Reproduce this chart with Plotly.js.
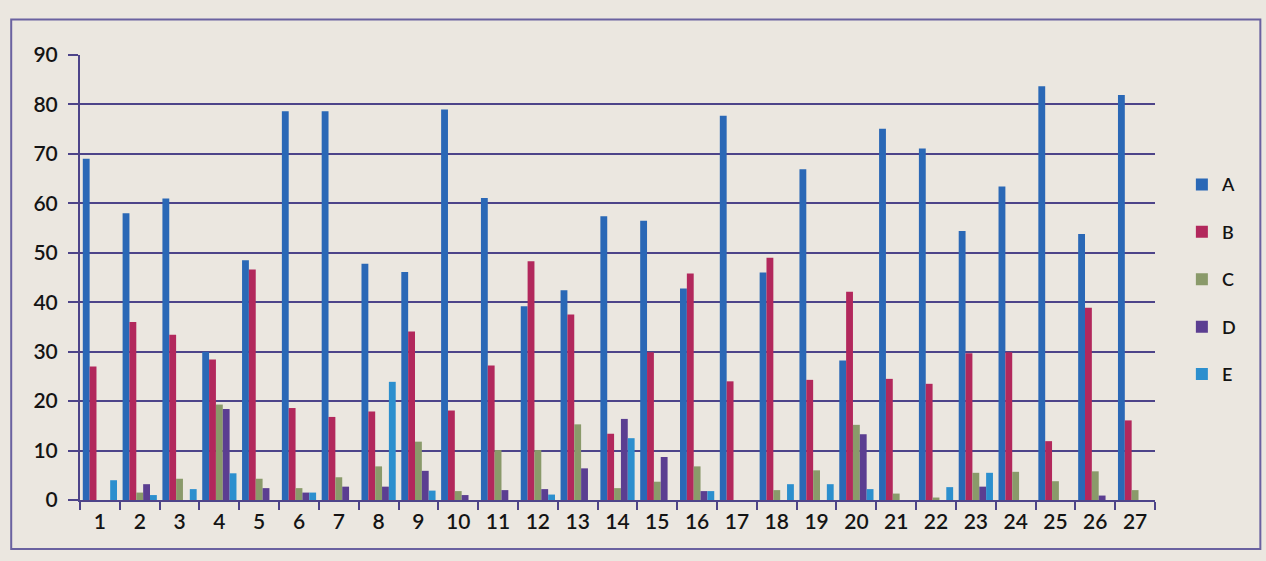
<!DOCTYPE html>
<html>
<head>
<meta charset="utf-8">
<script src="https://cdn.plot.ly/plotly-3.0.1.min.js"></script>
<style>
html,body{margin:0;padding:0;background:#ebe7e0;}
#chart{width:1266px;height:561px;}
</style>
</head>
<body>
<div id="chart"></div>
<script>
const categories = ["1","2","3","4","5","6","7","8","9","10","11","12","13","14","15","16","17","18","19","20","21","22","23","24","25","26","27"];
const seriesA = [69,58,61,30,48.5,78.6,78.6,47.8,46.1,79,61.1,39.2,42.4,57.4,56.5,42.8,77.7,46,66.9,28.2,75.1,71.1,54.4,63.4,83.7,53.8,81.9];
const seriesB = [27,36,33.4,28.4,46.6,18.6,16.8,17.9,34.1,18.1,27.2,48.3,37.5,13.4,29.9,45.8,24,49,24.3,42.1,24.5,23.5,29.7,29.9,11.9,38.9,16.1];
const seriesC = [0,1.5,4.3,19.3,4.3,2.4,4.6,6.8,11.8,1.8,10.1,10.1,15.3,2.4,3.7,6.8,0,2,6,15.2,1.3,0.5,5.5,5.7,3.8,5.8,2];
const seriesD = [0,3.2,0,18.4,2.4,1.5,2.7,2.7,5.9,1,2,2.2,6.4,16.4,8.7,1.8,0,0,0,13.3,0,0,2.7,0,0,0.9,0];
const seriesE = [4,1,2.2,5.4,0,1.5,0,23.9,1.9,0,0,1.1,0,12.5,0,1.8,0,3.2,3.2,2.2,0,2.6,5.5,0,0,0,0];
const seriesNames = ["A","B","C","D","E"];
const seriesColors = ["#2a68b6","#b2285c","#8a9a6a","#5b3e91","#2c8fce"];

const allSeries = [seriesA, seriesB, seriesC, seriesD, seriesE];
const traces = allSeries.map((vals, i) => ({
  type: "bar",
  name: seriesNames[i],
  x: categories,
  y: vals,
  marker: {color: seriesColors[i]},
  legendgroup: seriesNames[i]
}));

const font = {family: "Lato, 'Open Sans', sans-serif", size: 22, color: "#141414", weight: 600};
const layout = {
  width: 1266, height: 561,
  paper_bgcolor: "#ebe7e0",
  plot_bgcolor: "#ebe7e0",
  font: font,
  margin: {l: 80, r: 111, t: 55, b: 61},
  barmode: "group",
  bargap: 0.14,
  bargroupgap: 0,
  showlegend: true,
  legend: {x: 1.025, y: 0.75, xanchor: "left", yanchor: "top",
           font: {family: "Lato, 'Open Sans', sans-serif", size: 18, color: "#141414", weight: 600},
           tracegroupgap: 21, bgcolor: "rgba(0,0,0,0)", itemwidth: 30},
  xaxis: {type: "category", showgrid: false, showline: true, linecolor: "#4d4489", linewidth: 2,
          ticks: "outside", tickson: "boundaries", ticklen: 8, tickcolor: "#4d4489", tickwidth: 2,
          tickfont: {family: "Lato, 'Open Sans', sans-serif", size: 21, color: "#141414", weight: 600},
          zeroline: false, ticklabelstandoff: 2},
  yaxis: {range: [0, 90], dtick: 10, showgrid: true, gridcolor: "#4d4489", gridwidth: 2,
          showline: true, linecolor: "#4d4489", linewidth: 2, ticks: "outside", ticklen: 10,
          tickcolor: "#4d4489", tickwidth: 2,
          tickfont: {family: "Lato, 'Open Sans', sans-serif", size: 21, color: "#141414", weight: 600},
          zeroline: false, ticklabelstandoff: 6},
  shapes: [{type: "rect", xref: "paper", yref: "paper", x0: -0.064, x1: 1.098, y0: -0.11, y1: 1.08,
            line: {color: "#6a62a0", width: 2}, layer: "below"}]
};

Plotly.newPlot("chart", traces, layout, {displayModeBar: false, staticPlot: true});
</script>
</body>
</html>
